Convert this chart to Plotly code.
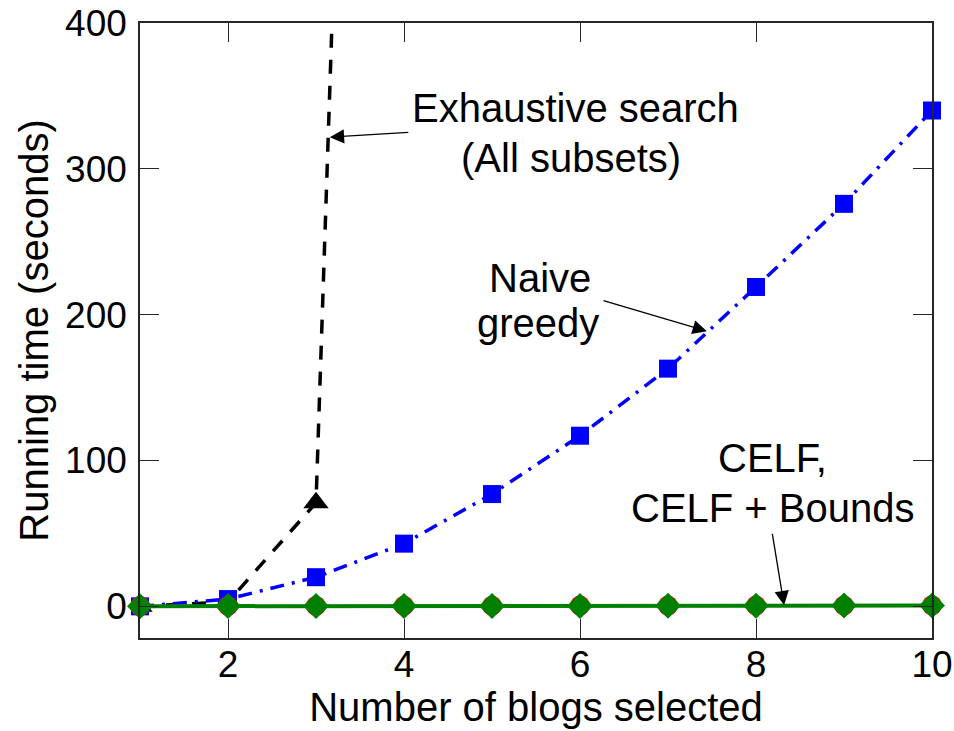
import plotly.graph_objects as go

# Number of blogs selected
k_all = [1, 2, 3, 4, 5, 6, 7, 8, 9, 10]
k_exhaustive = [1, 2, 3, 4]

# Running time in seconds
exhaustive_time = [0, 3, 71, 1880]
naive_greedy_time = [0, 5, 20, 43, 77, 117, 163, 219, 276, 340]
celf_time = [0.2, 0.3, 0.3, 0.4, 0.4, 0.5, 0.5, 0.6, 0.6, 0.7]
celf_bounds_time = [0.1, 0.2, 0.2, 0.3, 0.3, 0.3, 0.4, 0.4, 0.5, 0.5]

x_ticks = [2, 4, 6, 8, 10]
y_ticks = [0, 100, 200, 300, 400]

FONT = "Liberation Sans, Arial, sans-serif"
AXIS_COLOR = "#262626"

fig = go.Figure()

fig.add_trace(go.Scatter(
    x=k_exhaustive, y=exhaustive_time, mode="lines+markers",
    line=dict(color="black", width=3.5, dash="14px,12px"),
    marker=dict(symbol="triangle-up", size=22, color="black"),
    name="Exhaustive search", cliponaxis=True,
))
fig.add_trace(go.Scatter(
    x=k_all, y=naive_greedy_time, mode="lines+markers",
    line=dict(color="#0000ff", width=3.5, dash="14px,8px,3px,8px"),
    marker=dict(symbol="square", size=18, color="#0000ff"),
    name="Naive greedy", cliponaxis=False,
))
fig.add_trace(go.Scatter(
    x=k_all, y=celf_time, mode="lines+markers",
    line=dict(color="#ff0000", width=2, dash="dot"),
    marker=dict(symbol="circle", size=20, color="#ff0000"),
    name="CELF", cliponaxis=False,
))
fig.add_trace(go.Scatter(
    x=k_all, y=celf_bounds_time, mode="lines+markers",
    line=dict(color="#008000", width=4),
    marker=dict(symbol="diamond", size=20, color="#008000"),
    name="CELF + Bounds", cliponaxis=False,
))

text_style = dict(showarrow=False, font=dict(family=FONT, size=40, color="black"),
                  xref="x", yref="y", xanchor="center", yanchor="middle")
labels = [
    ("Exhaustive search", 5.953, 341.8),
    ("(All subsets)", 5.897, 307.3),
    ("Naive", 5.545, 225.1),
    ("greedy", 5.522, 194.3),
    ("CELF,", 8.193, 101.4),
    ("CELF + Bounds", 8.193, 67.2),
]
for txt, xx, yy in labels:
    fig.add_annotation(text=txt, x=xx, y=yy, **text_style)

arrow_style = dict(text="", showarrow=True, arrowhead=2, arrowsize=2.2, arrowwidth=1.3,
                   arrowcolor="black", xref="x", yref="y", axref="x", ayref="y",
                   standoff=0, startstandoff=0)
arrows = [
    # (head x, head y, tail x, tail y)
    (3.157, 321.7, 4.066, 325.1),
    (7.442, 188.6, 6.250, 209.9),
    (8.319, 0.7, 8.183, 50.8),
]
for hx, hy, tx, ty in arrows:
    fig.add_annotation(x=hx, y=hy, ax=tx, ay=ty, **arrow_style)

axis_common = dict(
    showline=True, linecolor=AXIS_COLOR, linewidth=1.5, mirror="ticks",
    ticks="inside", ticklen=19, tickwidth=1.3, tickcolor=AXIS_COLOR,
    showgrid=False, zeroline=False,
    tickfont=dict(family=FONT, size=37, color="black"),
)

fig.update_xaxes(
    range=[1, 10], tickvals=x_ticks, ticktext=[str(v) for v in x_ticks],
    title=dict(text="Number of blogs selected", font=dict(family=FONT, size=40, color="black"), standoff=0),
    ticklabelstandoff=-7,
    **axis_common,
)
fig.update_yaxes(
    range=[-21.7, 400], tickvals=y_ticks, ticktext=[str(v) for v in y_ticks],
    title=dict(text="Running time (seconds)", font=dict(family=FONT, size=40, color="black"), standoff=4),
    ticklabelstandoff=4,
    **axis_common,
)

fig.update_layout(
    width=954, height=731,
    margin=dict(l=140, r=22, t=23, b=93, autoexpand=False),
    paper_bgcolor="white", plot_bgcolor="white",
    showlegend=False,
    font=dict(family=FONT),
)

fig.write_html("out.html")
